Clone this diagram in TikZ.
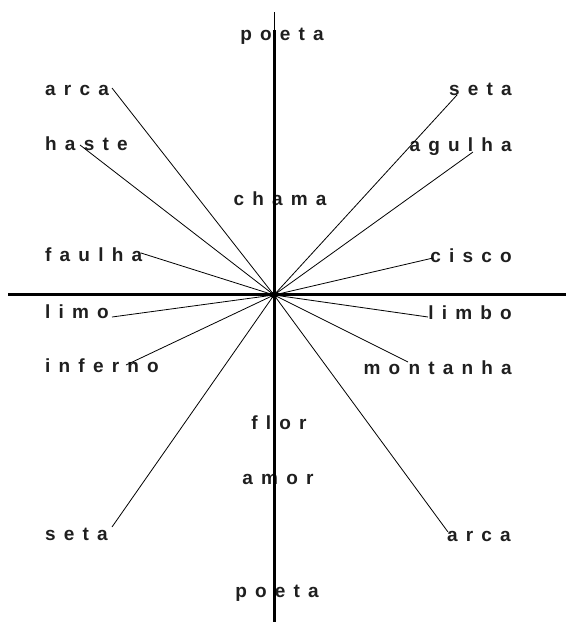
\documentclass[tikz,border=0pt]{standalone}
\usepackage{fontspec}
\setmainfont{Liberation Sans}[BoldFont={Liberation Sans Bold}]
\newlength\lspgap
\setlength\lspgap{8.2pt}
\makeatletter
\newcommand\spw[1]{\lsp@go#1\relax}
\def\lsp@go#1#2{#1\ifx#2\relax\else\kern\lspgap\expandafter\lsp@go\expandafter#2\fi}
\makeatother
\begin{document}
\begin{tikzpicture}[x=1pt,y=-1pt,
  lbl/.style={inner sep=0pt, font=\bfseries\fontsize{19}{19}\selectfont, text=black!88},
  ray/.style={line width=0.8pt, black},
  axisline/.style={line width=3pt, black}]
\useasboundingbox[fill=white] (0,0) rectangle (566,622);
% labels
\node[lbl, anchor=base] (poetaT) at (282,40) {\spw{poeta}};
\node[lbl, anchor=base west] (arcaL) at (45,95) {\spw{arca}};
\node[lbl, anchor=base east] (setaR) at (512,95) {\spw{seta}};
\node[lbl, anchor=base west] (haste) at (45,150) {\spw{haste}};
\node[lbl, anchor=base east] (agulha) at (512,151) {\spw{agulha}};
\node[lbl, anchor=base] (chama) at (280,205) {\spw{chama}};
\node[lbl, anchor=base west] (faulha) at (45,261) {\spw{faulha}};
\node[lbl, anchor=base east] (cisco) at (512,262) {\spw{cisco}};
\node[lbl, anchor=base west] (limo) at (45,318) {\spw{limo}};
\node[lbl, anchor=base east] (limbo) at (512,319) {\spw{limbo}};
\node[lbl, anchor=base west] (inferno) at (45,372) {\spw{inferno}};
\node[lbl, anchor=base east] (montanha) at (512,374) {\spw{montanha}};
\node[lbl, anchor=base] (flor) at (279,429) {\spw{flor}};
\node[lbl, anchor=base] (amor) at (278,484) {\spw{amor}};
\node[lbl, anchor=base west] (setaL) at (45,540) {\spw{seta}};
\node[lbl, anchor=base east] (arcaR) at (511,541) {\spw{arca}};
\node[lbl, anchor=base] (poetaB) at (277,597) {\spw{poeta}};
% ray ends
\coordinate (c) at (274,295);
\coordinate (eArcaL) at (112,88);
\coordinate (eHaste) at (80,145);
\coordinate (eSetaR) at (457,95);
\coordinate (eAgulha) at (473,152);
\coordinate (eFaulha) at (141,253);
\coordinate (eCisco) at (433,258);
\coordinate (eLimo) at (112,317);
\coordinate (eLimbo) at (428,317);
\coordinate (eInferno) at (126,365);
\coordinate (eMontanha) at (408,362);
\coordinate (eSetaL) at (112,527);
\coordinate (eArcaR) at (448,532);
\coordinate (axT) at (274,12);
\coordinate (axT2) at (274,30);
\coordinate (axB) at (274,622);
\coordinate (axL) at (8,294);
\coordinate (axR) at (566,294);
% rays
\foreach \e in {eArcaL,eHaste,eSetaR,eAgulha,eFaulha,eCisco,eLimo,eLimbo,eInferno,eMontanha,eSetaL,eArcaR}
  \draw[ray] (c) -- (\e);
% axes
\draw[line width=1pt] (axT) -- (axT2);
\draw[axisline] (axT2) -- (axB);
\draw[axisline] (axL) -- (axR);
\fill (c) circle (3.5);
\end{tikzpicture}
\end{document}
